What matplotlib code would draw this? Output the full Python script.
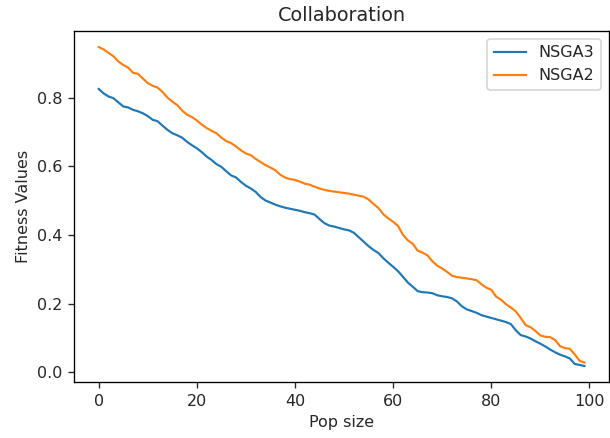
import matplotlib
matplotlib.use('Agg')
import matplotlib.pyplot as plt

# fitness per population size, one run each
pop_size = list(range(100))

nsga3 = [0.825, 0.812, 0.803, 0.798, 0.786, 0.774, 0.771, 0.764, 0.760, 0.754,
         0.746, 0.735, 0.731, 0.718, 0.706, 0.696, 0.690, 0.683, 0.671, 0.661,
         0.652, 0.641, 0.628, 0.618, 0.606, 0.598, 0.585, 0.573, 0.567, 0.554,
         0.543, 0.535, 0.525, 0.510, 0.500, 0.494, 0.488, 0.483, 0.479, 0.476,
         0.473, 0.470, 0.466, 0.463, 0.459, 0.446, 0.434, 0.427, 0.424, 0.420,
         0.416, 0.413, 0.406, 0.393, 0.380, 0.367, 0.356, 0.347, 0.332, 0.319,
         0.307, 0.294, 0.278, 0.261, 0.249, 0.236, 0.233, 0.232, 0.230, 0.224,
         0.221, 0.219, 0.215, 0.206, 0.192, 0.183, 0.178, 0.173, 0.166, 0.162,
         0.158, 0.154, 0.150, 0.146, 0.140, 0.122, 0.108, 0.104, 0.098, 0.090,
         0.083, 0.075, 0.066, 0.058, 0.051, 0.046, 0.040, 0.024, 0.021, 0.018]

nsga2 = [0.947, 0.940, 0.930, 0.920, 0.905, 0.895, 0.887, 0.872, 0.869, 0.855,
         0.842, 0.834, 0.829, 0.816, 0.800, 0.788, 0.778, 0.762, 0.750, 0.743,
         0.733, 0.721, 0.711, 0.703, 0.696, 0.683, 0.673, 0.667, 0.657, 0.646,
         0.637, 0.632, 0.621, 0.612, 0.603, 0.596, 0.588, 0.575, 0.567, 0.562,
         0.560, 0.555, 0.549, 0.546, 0.540, 0.535, 0.531, 0.528, 0.526, 0.524,
         0.522, 0.520, 0.517, 0.514, 0.511, 0.503, 0.490, 0.478, 0.460, 0.448,
         0.438, 0.426, 0.400, 0.384, 0.374, 0.354, 0.348, 0.340, 0.323, 0.310,
         0.302, 0.292, 0.281, 0.277, 0.275, 0.273, 0.271, 0.268, 0.256, 0.246,
         0.240, 0.220, 0.211, 0.198, 0.188, 0.177, 0.158, 0.137, 0.131, 0.120,
         0.107, 0.103, 0.102, 0.094, 0.076, 0.070, 0.068, 0.052, 0.033, 0.028]

DPI = 120
plt.rcParams['font.size'] = 9.6
plt.rcParams['text.color'] = '#262626'
plt.rcParams['axes.labelcolor'] = '#262626'
plt.rcParams['xtick.color'] = '#262626'
plt.rcParams['ytick.color'] = '#262626'

fig = plt.figure(figsize=(610 / DPI, 438 / DPI), dpi=DPI)
ax = fig.add_axes([0.122, 0.128, 0.876, 0.801])

ax.plot(pop_size, nsga3, label='NSGA3', lw=1.3)
ax.plot(pop_size, nsga2, label='NSGA2', lw=1.3)

ax.set_title('Collaboration')
ax.set_xlabel('Pop size')
ax.set_ylabel('Fitness Values')
ax.legend()

fig.savefig('out.png', dpi=DPI)
